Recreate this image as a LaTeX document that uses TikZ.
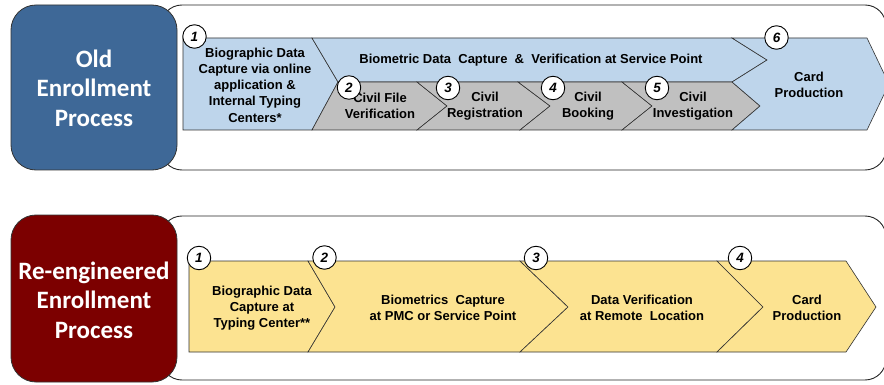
\documentclass[tikz,border=0pt]{standalone}
\usepackage{fontspec}
\setmainfont{Liberation Sans}
\newfontfamily\calib{Carlito}
\definecolor{oldblue}{RGB}{62,104,151}
\definecolor{newred}{RGB}{124,0,0}
\definecolor{paleblue}{RGB}{190,213,235}
\definecolor{stepgray}{RGB}{192,192,192}
\definecolor{stepyellow}{RGB}{252,227,145}
\definecolor{edgegray}{RGB}{50,50,50}
\tikzset{
  panel/.style={draw=black!85, line width=0.9pt, fill=white, rounded corners=21pt},
  headbox/.style={draw=black!80, line width=0.8pt, rounded corners=25pt},
  headtext/.style={text=white, align=center, font=\calib\bfseries\fontsize{25}{29.5}\selectfont},
  stepshape/.style={draw=edgegray, line width=0.6pt, line join=miter},
  steptext/.style={align=center, inner sep=0pt, font=\bfseries\fontsize{13}{16.3}\selectfont},
  numbadge/.style={circle, draw=black, line width=0.9pt, fill=white, minimum size=23.5pt, inner sep=0pt,
    font=\bfseries\itshape\fontsize{13.5}{13.5}\selectfont}
}
\begin{document}
\begin{tikzpicture}[x=1pt,y=-1pt]
\useasboundingbox (0,0) rectangle (884,385);

% ---------- old enrollment process ----------
\draw[panel] (161,5) rectangle (886,170);
\draw[headbox, fill=oldblue] (11,5) rectangle (177,170);
\node[headtext] (oldhead) at (94,88) {Old\\Enrollment\\Process};

% step shapes
\draw[stepshape, fill=paleblue] (183,38) -- (312,38) -- (338,82) -- (312,130) -- (183,130) -- cycle;
\draw[stepshape, fill=paleblue] (312,38) -- (732,38) -- (767,60) -- (732,82) -- (338,82) -- cycle;
\draw[stepshape, fill=stepgray] (338,82) -- (417,82) -- (447,106) -- (417,130) -- (312,130) -- cycle;
\draw[stepshape, fill=stepgray] (417,82) -- (518,82) -- (550,106) -- (520,130) -- (417,130) -- (447,106) -- cycle;
\draw[stepshape, fill=stepgray] (518,82) -- (622,82) -- (652,106) -- (622,130) -- (520,130) -- (550,106) -- cycle;
\draw[stepshape, fill=stepgray] (622,82) -- (732,82) -- (760,106) -- (732,130) -- (622,130) -- (652,106) -- cycle;
\draw[stepshape, fill=paleblue] (732,38) -- (867,38) -- (889,84) -- (867,130) -- (732,130) -- (760,106) -- (732,82) -- (767,60) -- cycle;

% step labels
\node[steptext] (o1) at (255,85) {Biographic Data\\Capture via online\\application \&\\Internal Typing\\Centers*};
\node[steptext] (oband) at (531,60) {Biometric Data\ \ Capture\ \ \&\ \ Verification\ at\ Service\ Point};
\node[steptext] (o2) at (380,106) {Civil File\\Verification};
\node[steptext] (o3) at (485,106) {Civil\\Registration};
\node[steptext] (o4) at (588,106) {Civil\\Booking};
\node[steptext] (o5) at (693,106) {Civil\\Investigation};
\node[steptext] (o6) at (809,85) {Card\\Production};

% step numbers
\node[numbadge] (on1) at (194.5,36.5) {1};
\node[numbadge] (on2) at (349,87.5) {2};
\node[numbadge] (on3) at (448,88) {3};
\node[numbadge] (on4) at (553,88) {4};
\node[numbadge] (on5) at (657,88) {5};
\node[numbadge] (on6) at (776.5,37.5) {6};

% ---------- re-engineered enrollment process ----------
\draw[panel] (161,216) rectangle (886,380);
\draw[headbox, fill=newred] (11,215) rectangle (177,382);
\node[headtext] (newhead) at (94,300) {Re-engineered\\Enrollment\\Process};

\draw[stepshape, fill=stepyellow] (189,261) -- (308,261) -- (335,307) -- (308,352) -- (189,352) -- cycle;
\draw[stepshape, fill=stepyellow] (308,261) -- (520,261) -- (568,307) -- (520,352) -- (308,352) -- (335,307) -- cycle;
\draw[stepshape, fill=stepyellow] (520,261) -- (717,261) -- (763,307) -- (717,352) -- (520,352) -- (568,307) -- cycle;
\draw[stepshape, fill=stepyellow] (717,261) -- (846,261) -- (876,307) -- (846,352) -- (717,352) -- (763,307) -- cycle;

\node[steptext] (n1) at (262,308) {Biographic Data\\Capture at\\Typing Center**};
\node[steptext] (n2) at (443,308) {Biometrics\ \ Capture\\at PMC or Service Point};
\node[steptext] (n3) at (642,308) {Data Verification\\at Remote\ \ Location};
\node[steptext] (n4) at (807,308) {Card\\Production};

\node[numbadge] (nn1) at (199,258) {1};
\node[numbadge] (nn2) at (324.5,257.5) {2};
\node[numbadge] (nn3) at (536,258) {3};
\node[numbadge] (nn4) at (740,258) {4};
\end{tikzpicture}
\end{document}
